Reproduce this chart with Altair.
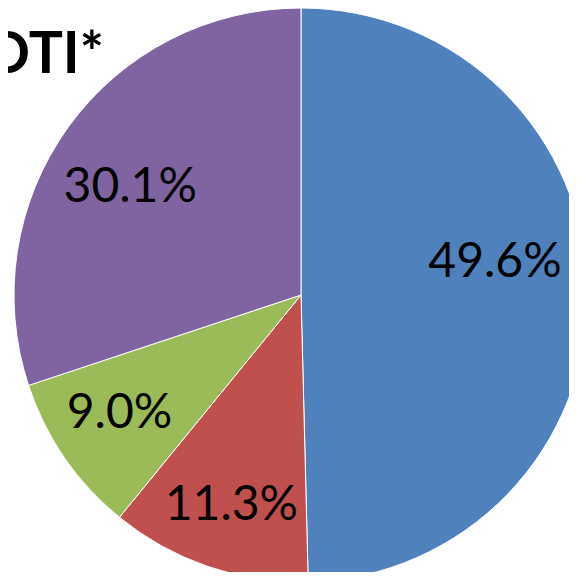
import altair as alt
import pandas as pd

categories = ["A", "B", "C", "D"]
values = [49.6, 11.3, 9.0, 30.1]
labels = ["49.6%", "11.3%", "9.0%", "30.1%"]
colors = ["#4F81BD", "#C0504D", "#9BBB59", "#8064A2"]
order = [0, 1, 2, 3]
title_text = "OTI*"

df = pd.DataFrame({"cat": categories, "value": values, "label": labels, "idx": order})

CX, CY = 293, 287
R = 287
LR = 218
FONT = "Lato"
FS = 48
theta_scale = alt.Scale(domain=[0, 100])

pie = alt.Chart(df).mark_arc(radius=R, stroke="white", strokeWidth=1).encode(
    theta=alt.Theta("value:Q", stack=True, scale=theta_scale),
    order=alt.Order("idx:Q"),
    x=alt.value(CX),
    y=alt.value(CY),
    color=alt.Color("cat:N", scale=alt.Scale(domain=categories, range=colors), legend=None),
)

lab = alt.Chart(df).transform_window(
    cum="sum(value)", sort=[alt.SortField("idx")], frame=[None, 0]
).transform_calculate(mid="datum.cum - datum.value / 2")


def text_layer(cats, dx=0, dy=0):
    return lab.transform_filter(
        alt.FieldOneOfPredicate(field="cat", oneOf=cats)
    ).mark_text(
        radius=LR, font=FONT, fontSize=FS, color="black",
        align="center", baseline="middle", dx=dx, dy=dy,
    ).encode(
        theta=alt.Theta("mid:Q", stack=None, scale=theta_scale),
        x=alt.value(CX),
        y=alt.value(CY),
        text="label:N",
    )


t_red = text_layer(["B"], dx=1, dy=5)
t_green = text_layer(["C"], dx=-2, dy=-5)
t_b = text_layer(["A"], dx=-24, dy=-29)
t_p = text_layer(["D"], dx=6, dy=21)

title = alt.Chart(pd.DataFrame({"t": [title_text]})).mark_text(
    font=FONT, fontSize=57, fontWeight="bold", color="black",
    align="right", baseline="alphabetic",
).encode(x=alt.value(96), y=alt.value(65), text="t:N")

chart = alt.layer(pie, t_red, t_green, t_b, t_p, title).properties(
    width=561,
    height=564,
    padding=0,
    autosize=alt.AutoSizeParams(type="none"),
).configure_view(stroke=None)

chart.save("out.html", embed_options={"renderer": "svg", "actions": False})
